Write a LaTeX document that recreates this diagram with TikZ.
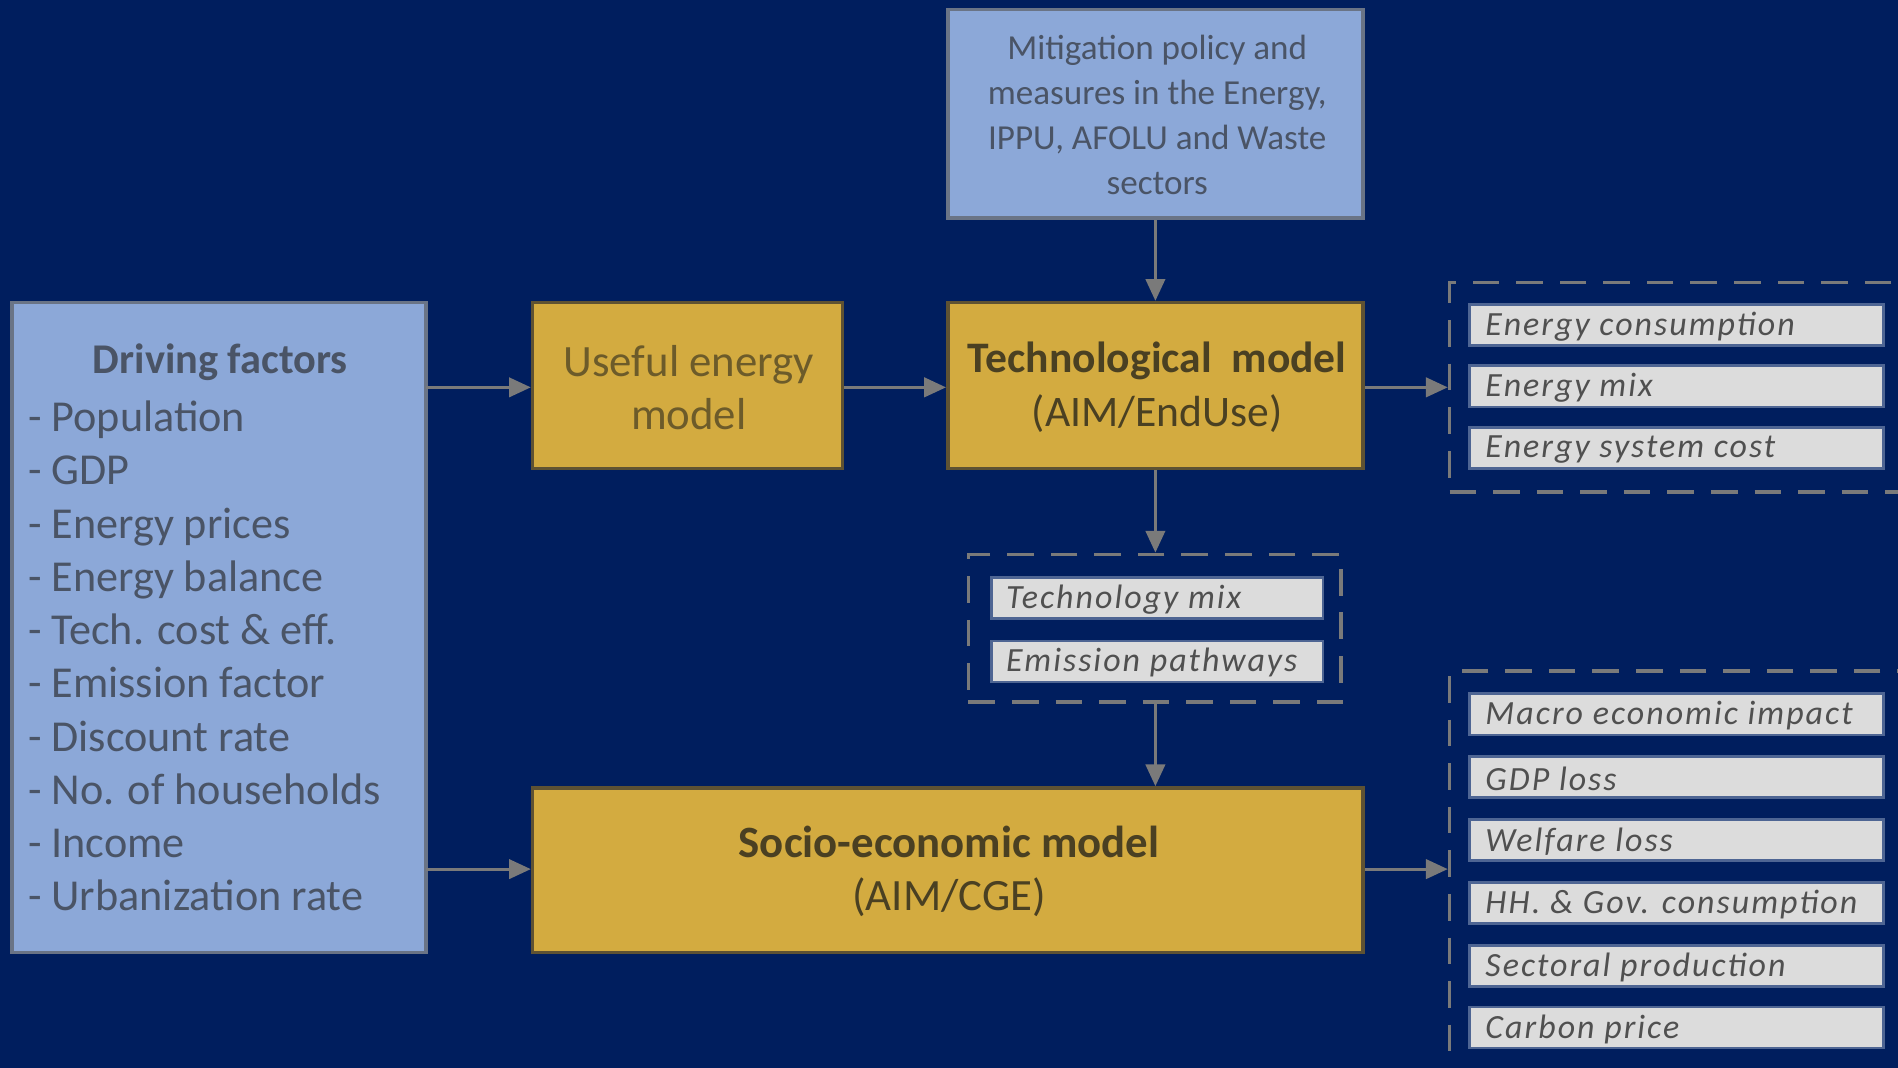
\documentclass[tikz,border=0pt]{standalone}
\usepackage{fontspec}
\setmainfont{Carlito}
\usetikzlibrary{arrows.meta}
\definecolor{bgnavy}{HTML}{001E5E}
\definecolor{lblue}{HTML}{8CA8D8}
\definecolor{gold}{HTML}{D3AB40}
\definecolor{itemgrey}{HTML}{DCDCDC}
\definecolor{arrowgrey}{HTML}{7A7A7A}
\definecolor{bluetext}{HTML}{4A5466}
\definecolor{goldtext}{HTML}{4A4022}
\definecolor{goldborder}{HTML}{5E5233}
\definecolor{blueborder}{HTML}{6A7486}
\definecolor{itemborder}{HTML}{4E6593}
\definecolor{itemtext}{HTML}{505050}
\tikzset{
  bluebox/.style={draw=blueborder, fill=lblue, line width=3pt, inner sep=0pt},
  goldbox/.style={draw=goldborder, fill=gold, line width=3pt, inner sep=0pt},
  itembox/.style={draw=itemborder, fill=itemgrey, line width=2pt, anchor=west, inner sep=0pt,
    minimum width=342pt, minimum height=34pt},
  itemtxt/.style={anchor=west, text=itemtext, font=\fontsize{28}{32}\selectfont\itshape\addfontfeature{LetterSpace=6}, inner sep=0pt},
  grpbox/.style={draw=arrowgrey, dash pattern=on 22pt off 14pt, line width=3pt, inner sep=0pt},
  conn/.style={draw=arrowgrey, line width=2.5pt, -{Triangle[length=18pt,width=16pt]}},
  bigtxt/.style={font=\fontsize{36}{44}\selectfont, inner sep=0pt, align=center},
}
\begin{document}
\begin{tikzpicture}[x=1pt,y=-1pt]
\useasboundingbox (0,0) rectangle (1568,882);
\clip (0,0) rectangle (1568,882);
\fill[bgnavy] (-5,-5) rectangle (1575,890);

% Driving factors
\node[bluebox, minimum width=342pt, minimum height=537pt] (drv) at (181,518.5) {};
\node[bigtxt, text=bluetext, font=\fontsize{35}{44}\selectfont\bfseries] (drvt) at (182,299) {Driving factors};
\node[inner sep=0pt, anchor=west, align=left, text=bluetext, font=\fontsize{36.5}{44}\selectfont] (drvl) at (23,542)
{- Population\\- GDP\\- Energy prices\\- Energy balance\\- Tech. cost \& eff.\\- Emission factor\\- Discount rate\\- No. of households\\- Income\\- Urbanization rate};

% Mitigation
\node[bluebox, minimum width=343pt, minimum height=172pt] (mit) at (954.5,94) {};
\node[inner sep=0pt, align=center, text=bluetext, font=\fontsize{29}{37}\selectfont] (mitt) at (956,95)
{Mitigation policy and\\measures in the Energy,\\IPPU, AFOLU and Waste\\sectors};

% Useful energy
\node[goldbox, minimum width=256pt, minimum height=137pt] (use) at (568,318.5) {};
\node[bigtxt, text=goldtext!75!gold, font=\fontsize{37}{44}\selectfont] (uset) at (569,320) {Useful energy\\model};

% Technological
\node[goldbox, minimum width=343pt, minimum height=137pt] (tech) at (954.5,318.5) {};
\node[bigtxt, text=goldtext] (techt) at (956,320) {\textbf{Technological\ \ model}\\(AIM/EndUse)};

% Socio-economic
\node[goldbox, minimum width=686pt, minimum height=136pt] (soc) at (783,719) {};
\node[bigtxt, text=goldtext, font=\fontsize{37}{44}\selectfont] (soct) at (784,720) {\textbf{Socio-economic model}\\(AIM/CGE)};

% Right group 1
\node[grpbox, minimum width=420pt, minimum height=173pt, anchor=north west] (g1) at (1196,232) {};
\node[itembox] (e1) at (1213,268.5) {};
\node[itembox] (e2) at (1213,319) {};
\node[itembox] (e3) at (1213,370) {};
\node[itemtxt] (e1t) at (1227,270) {Energy consumption};
\node[itemtxt] (e2t) at (1227,320.5) {Energy mix};
\node[itemtxt] (e3t) at (1227,371.5) {Energy system cost};

% Middle group
\node[grpbox, minimum width=308pt, minimum height=122pt] (gm) at (954,519) {};
\node[itembox, minimum width=274pt] (m1) at (818,494) {};
\node[itembox, minimum width=274pt] (m2) at (818,546.5) {};
\node[itemtxt] (m1t) at (831,495) {Technology mix};
\node[itemtxt] (m2t) at (831,547.5) {Emission pathways};

% Right group 2
\node[grpbox, minimum width=420pt, minimum height=380pt, anchor=north west] (g2) at (1196,553) {};
\node[itembox] (r1) at (1213,590) {};
\node[itembox] (r2) at (1213,642) {};
\node[itembox] (r3) at (1213,694) {};
\node[itembox] (r4) at (1213,746) {};
\node[itembox] (r5) at (1213,798) {};
\node[itembox] (r6) at (1213,849) {};
\node[itemtxt] (r1t) at (1227,591.5) {Macro economic impact};
\node[itemtxt] (r2t) at (1227,643.5) {GDP loss};
\node[itemtxt] (r3t) at (1227,695.5) {Welfare loss};
\node[itemtxt] (r4t) at (1227,747.5) {HH. \& Gov. consumption};
\node[itemtxt] (r5t) at (1227,799.5) {Sectoral production};
\node[itemtxt] (r6t) at (1227,850.5) {Carbon price};

% Connectors
\coordinate (d1) at (352,320);
\coordinate (d2) at (352,718);
\draw[conn] (d1) -- (d1 -| use.west);
\draw[conn] (d2) -- (d2 -| soc.west);
\draw[conn] (use.east |- d1) -- (d1 -| tech.west);
\draw[conn] (tech.east |- d1) -- (d1 -| g1.west);
\draw[conn] (soc.east |- d2) -- (d2 -| g2.west);
\draw[conn] (mit.south) -- (tech.north);
\draw[conn] (tech.south) -- (gm.north -| tech.south);
\draw[conn] (gm.south -| tech.south) -- (soc.north -| tech.south);
\end{tikzpicture}
\end{document}
